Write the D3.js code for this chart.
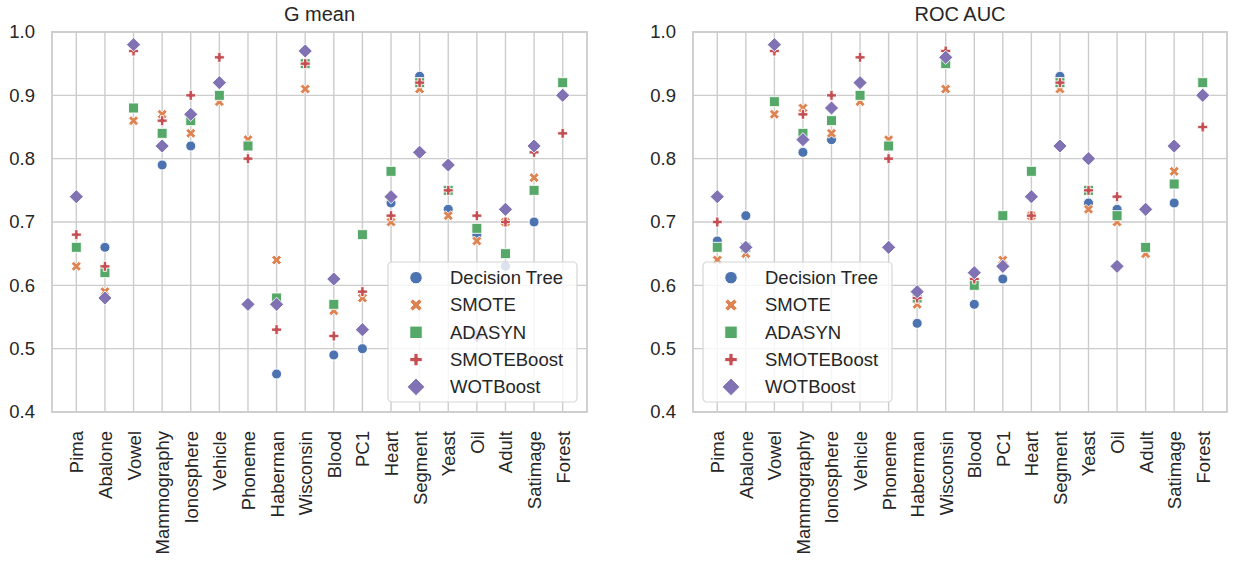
<!DOCTYPE html>
<html>
<head>
<meta charset="utf-8">
<script src="https://cdn.jsdelivr.net/npm/d3@7"></script>
<style>
body { margin: 0; background: #fff; }
text { font-family: "Liberation Sans", Arial, sans-serif; fill: #262626; }
</style>
</head>
<body>
<svg id="chart" width="1233" height="565"></svg>
<script>
// datasets on the x axis
var categories = ["Pima", "Abalone", "Vowel", "Mammography", "Ionosphere", "Vehicle", "Phoneme",
	"Haberman", "Wisconsin", "Blood", "PC1", "Heart", "Segment", "Yeast", "Oil", "Adult", "Satimage", "Forest"];
var methods = ["Decision Tree", "SMOTE", "ADASYN", "SMOTEBoost", "WOTBoost"];
var yTicks = [0.4, 0.5, 0.6, 0.7, 0.8, 0.9, 1.0];

// G mean per method
var gmeanDT         = [0.66, 0.66, 0.98, 0.79, 0.82, 0.90, 0.82, 0.46, 0.95, 0.49, 0.50, 0.73, 0.93, 0.72, 0.68, 0.63, 0.70, 0.92];
var gmeanSMOTE      = [0.63, 0.59, 0.86, 0.87, 0.84, 0.89, 0.83, 0.64, 0.91, 0.56, 0.58, 0.70, 0.91, 0.71, 0.67, 0.70, 0.77, 0.90];
var gmeanADASYN     = [0.66, 0.62, 0.88, 0.84, 0.86, 0.90, 0.82, 0.58, 0.95, 0.57, 0.68, 0.78, 0.92, 0.75, 0.69, 0.65, 0.75, 0.92];
var gmeanSMOTEBoost = [0.68, 0.63, 0.97, 0.86, 0.90, 0.96, 0.80, 0.53, 0.95, 0.52, 0.59, 0.71, 0.92, 0.75, 0.71, 0.70, 0.81, 0.84];
var gmeanWOTBoost   = [0.74, 0.58, 0.98, 0.82, 0.87, 0.92, 0.57, 0.57, 0.97, 0.61, 0.53, 0.74, 0.81, 0.79, 0.52, 0.72, 0.82, 0.90];

// ROC AUC per method
var rocDT           = [0.67, 0.71, 0.98, 0.81, 0.83, 0.90, 0.82, 0.54, 0.96, 0.57, 0.61, 0.71, 0.93, 0.73, 0.72, 0.72, 0.73, 0.92];
var rocSMOTE        = [0.64, 0.65, 0.87, 0.88, 0.84, 0.89, 0.83, 0.57, 0.91, 0.60, 0.64, 0.71, 0.91, 0.72, 0.70, 0.65, 0.78, 0.90];
var rocADASYN       = [0.66, 0.66, 0.89, 0.84, 0.86, 0.90, 0.82, 0.58, 0.95, 0.60, 0.71, 0.78, 0.92, 0.75, 0.71, 0.66, 0.76, 0.92];
var rocSMOTEBoost   = [0.70, 0.66, 0.97, 0.87, 0.90, 0.96, 0.80, 0.58, 0.97, 0.61, 0.63, 0.71, 0.92, 0.75, 0.74, 0.72, 0.82, 0.85];
var rocWOTBoost     = [0.74, 0.66, 0.98, 0.83, 0.88, 0.92, 0.66, 0.59, 0.96, 0.62, 0.63, 0.74, 0.82, 0.80, 0.63, 0.72, 0.82, 0.90];

var colors = ["#4C72B0", "#DD8452", "#55A868", "#C44E52", "#8172B3"];

// marker outlines in unit size (extent about +-0.5), like matplotlib o X s P D
function polyPath(pts, m) {
	return "M" + pts.map(function(p) { return (p[0] * m) + "," + (p[1] * m); }).join("L") + "Z";
}
var xPts = [[-1,-2],[0,-1],[1,-2],[2,-1],[1,0],[2,1],[1,2],[0,1],[-1,2],[-2,1],[-1,0],[-2,-1]].map(function(p) { return [p[0] / 4, p[1] / 4]; });
var plusPts = [[-1,-3],[1,-3],[1,-1],[3,-1],[3,1],[1,1],[1,3],[-1,3],[-1,1],[-3,1],[-3,-1],[-1,-1]].map(function(p) { return [p[0] / 6, p[1] / 6]; });
var markers = [
	function(m) { var r = m / 2; return "M" + r + ",0A" + r + "," + r + " 0 1,1 " + (-r) + ",0A" + r + "," + r + " 0 1,1 " + r + ",0Z"; },
	function(m) { return polyPath(xPts, m); },
	function(m) { return polyPath([[-0.5,-0.5],[0.5,-0.5],[0.5,0.5],[-0.5,0.5]], m); },
	function(m) { return polyPath(plusPts, m); },
	function(m) { var d = Math.SQRT1_2; return polyPath([[0,-d],[d,0],[0,d],[-d,0]], m); }
];

var svg = d3.select("#chart");
var plotTop = 32, plotBottom = 412;

function drawPanel(x0, x1, title, series, legendX) {
	var g = svg.append("g");

	var x = d3.scalePoint().domain(categories).range([x0, x1]).padding(0.85);
	var y = d3.scaleLinear().domain([0.4, 1.0]).range([plotBottom, plotTop]);

	// grid
	g.selectAll(".vgrid").data(categories).enter().append("line")
		.attr("x1", function(d) { return x(d); }).attr("x2", function(d) { return x(d); })
		.attr("y1", plotTop).attr("y2", plotBottom)
		.attr("stroke", "#cccccc").attr("stroke-width", 1.4);
	g.selectAll(".hgrid").data(yTicks).enter().append("line")
		.attr("x1", x0).attr("x2", x1)
		.attr("y1", function(d) { return y(d); }).attr("y2", function(d) { return y(d); })
		.attr("stroke", "#cccccc").attr("stroke-width", 1.4);
	g.append("rect")
		.attr("x", x0).attr("y", plotTop).attr("width", x1 - x0).attr("height", plotBottom - plotTop)
		.attr("fill", "none").attr("stroke", "#cccccc").attr("stroke-width", 1.8);

	// points, one series after the other
	series.forEach(function(vals, s) {
		g.selectAll(".pt" + s).data(vals).enter().append("path")
			.attr("d", markers[s](10))
			.attr("transform", function(d, i) { return "translate(" + x(categories[i]) + "," + y(d) + ")"; })
			.attr("fill", colors[s]).attr("stroke", "#fff").attr("stroke-width", 0.9);
	});

	// axes
	var yAxis = g.append("g").attr("transform", "translate(" + x0 + ",0)")
		.call(d3.axisLeft(y).tickValues(yTicks).tickFormat(d3.format(".1f")).tickSize(0).tickPadding(17));
	yAxis.select(".domain").remove();
	yAxis.selectAll("text").style("font-size", "18.5px").attr("fill", "#262626");

	var xAxis = g.append("g").attr("transform", "translate(0," + plotBottom + ")")
		.call(d3.axisBottom(x).tickSize(0));
	xAxis.select(".domain").remove();
	xAxis.selectAll("text")
		.attr("transform", "rotate(-90)")
		.attr("x", -19).attr("y", 0).attr("dy", ".35em")
		.style("text-anchor", "end").style("font-size", "18.5px").attr("fill", "#262626");

	// title
	g.append("text")
		.attr("x", (x0 + x1) / 2).attr("y", 21)
		.attr("text-anchor", "middle").style("font-size", "20px")
		.text(title);

	// legend
	var lg = g.append("g").attr("transform", "translate(" + legendX + ",262)");
	lg.append("rect")
		.attr("width", 189).attr("height", 140).attr("rx", 4)
		.attr("fill", "#fff").attr("fill-opacity", 0.8)
		.attr("stroke", "#d6d6d6").attr("stroke-width", 1.2);
	var item = lg.selectAll(".item").data(methods).enter().append("g")
		.attr("transform", function(d, i) { return "translate(0," + (15.7 + i * 27.3) + ")"; });
	item.append("path")
		.attr("d", function(d, i) { return markers[i](12.5); })
		.attr("transform", "translate(28,0)")
		.attr("fill", function(d, i) { return colors[i]; })
		.attr("stroke", "#fff").attr("stroke-width", 1);
	item.append("text")
		.attr("x", 62).attr("dy", ".35em")
		.style("font-size", "18.5px")
		.text(function(d) { return d; });
}

drawPanel(52, 587, "G mean", [gmeanDT, gmeanSMOTE, gmeanADASYN, gmeanSMOTEBoost, gmeanWOTBoost], 388);
drawPanel(693, 1227, "ROC AUC", [rocDT, rocSMOTE, rocADASYN, rocSMOTEBoost, rocWOTBoost], 703);
</script>
</body>
</html>
